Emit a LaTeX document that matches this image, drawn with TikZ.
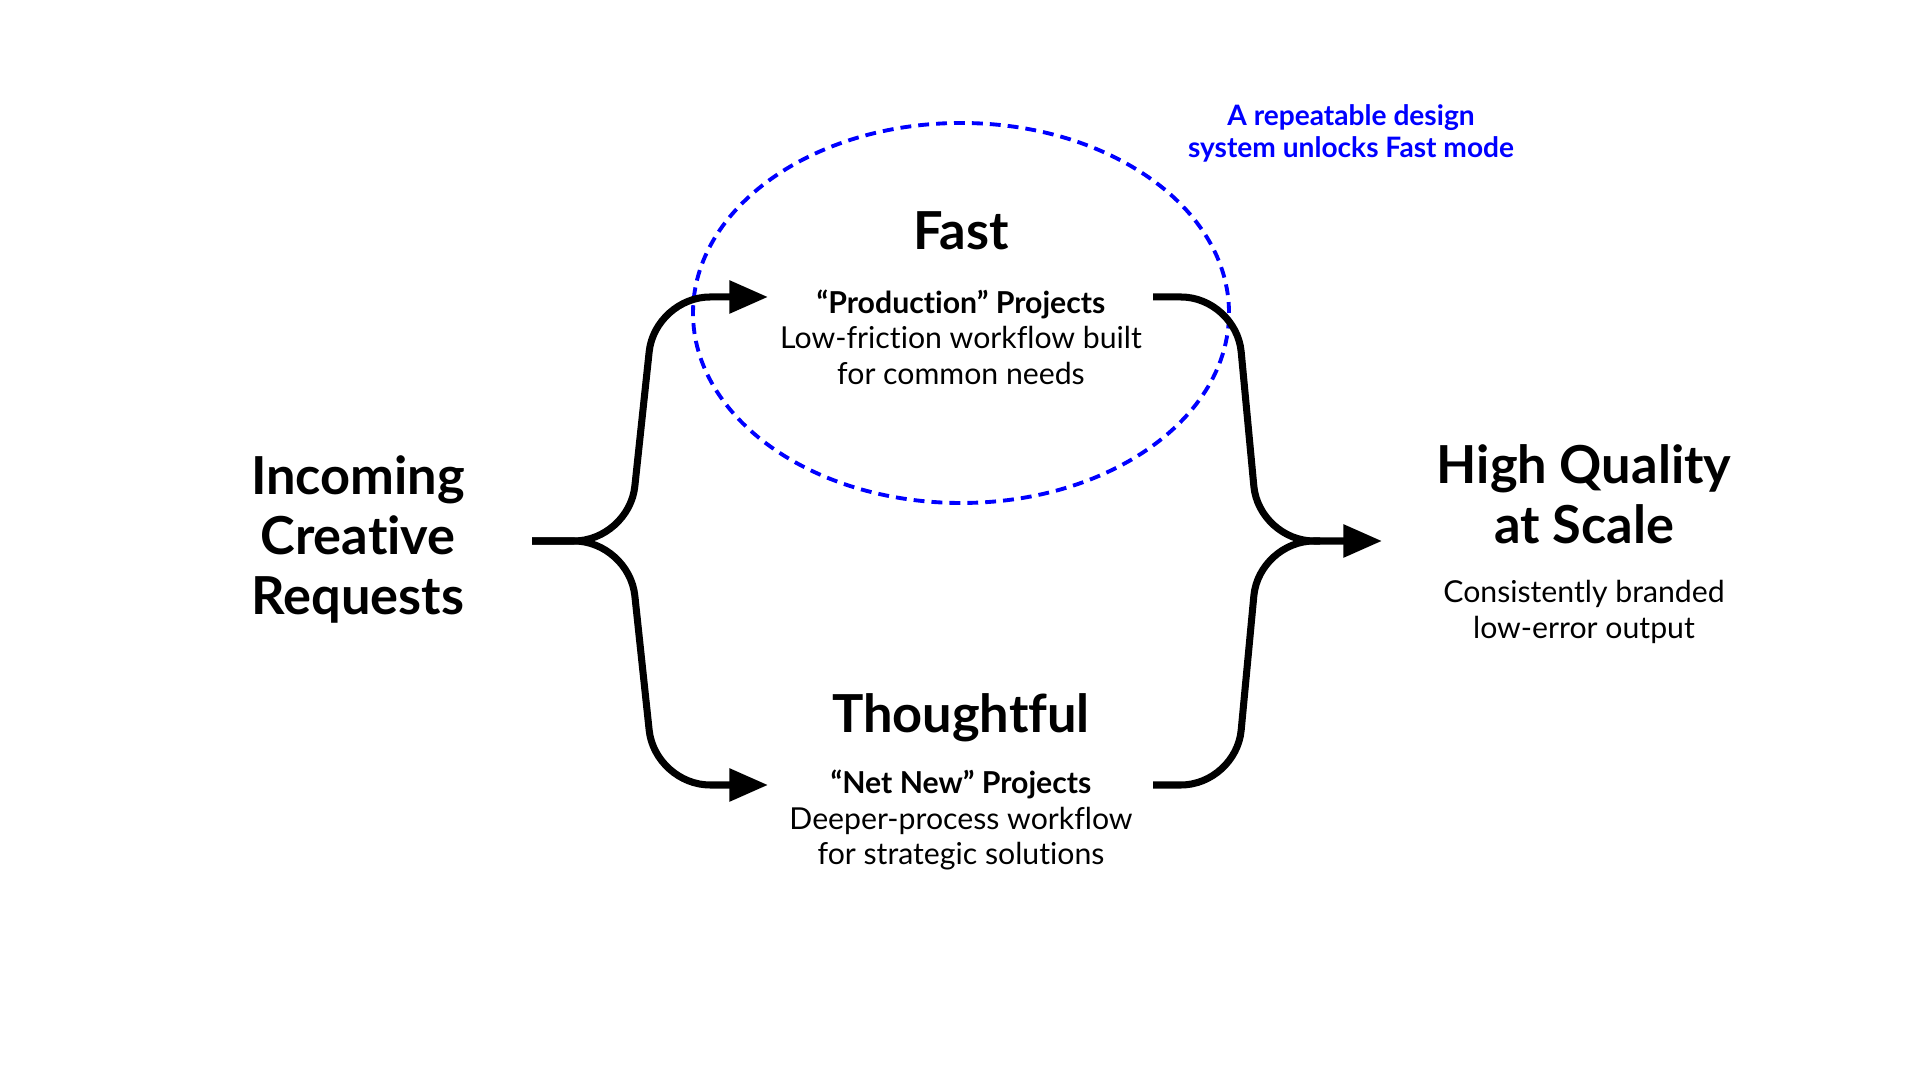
\documentclass[tikz,border=0pt]{standalone}
\usepackage{fontspec}
\setmainfont{Lato}[Ligatures={NoCommon}]
\usepackage{xcolor}
\usepackage{tikz}
\usetikzlibrary{shapes, arrows.meta, calc, positioning}

\definecolor{noteblue}{RGB}{0,0,255}

\begin{document}
\begin{tikzpicture}[
    flow/.style={line width=2pt, rounded corners=0.55cm},
    tip/.style={-{Triangle[length=11pt, width=9pt]}},
    heading/.style={font={\fontsize{14.9}{17.1}\selectfont\bfseries}, align=center, anchor=base, inner sep=0pt},
    detail/.style={font={\fontsize{8.6}{10.24}\selectfont}, align=center, anchor=base, inner sep=0pt}
]
    \useasboundingbox (0,0) rectangle (19.2,10.8);

    % Fast mode zone
    \node[ellipse, draw=noteblue, line width=1.1pt, dash pattern=on 3.1pt off 2pt,
          minimum width=5.36cm, minimum height=3.80cm] (zone) at (9.61, 7.67) {};
    \node[font={\fontsize{8}{9.1}\selectfont\bfseries}, text=noteblue, align=center,
          anchor=base, inner sep=0pt] (note) at (13.51, 9.22)
          {A repeatable design\\system unlocks Fast mode};

    % Text blocks (base = last line)
    \node[heading] (src) at (3.58, 4.65) {Incoming\\Creative\\Requests};
    \node[heading] (fast) at (9.61, 8.30) {Fast};
    \node[detail] (fastsub) at (9.61, 6.95)
          {\bfseries “Production” Projects\\Low-friction workflow built\\for common needs};
    \node[heading] (thought) at (9.61, 3.47) {Thoughtful};
    \node[detail] (thoughtsub) at (9.61, 2.15)
          {\bfseries “Net New” Projects\\Deeper-process workflow\\for strategic solutions};
    \node[heading] (goal) at (15.84, 5.36) {High Quality\\at Scale};
    \node[detail] (goalsub) at (15.84, 4.41) {Consistently branded\\low-error output};

    % Brace points
    \coordinate (split) at (5.32, 5.39);
    \coordinate (split_bend) at (6.29, 5.39);
    \coordinate (fast_bend) at (6.55, 7.83);
    \coordinate (thought_bend) at (6.55, 2.95);
    \coordinate (fast_in) at (7.68, 7.83);
    \coordinate (thought_in) at (7.68, 2.95);

    \coordinate (fast_out) at (11.53, 7.83);
    \coordinate (fast_turn) at (12.36, 7.83);
    \coordinate (thought_out) at (11.53, 2.95);
    \coordinate (thought_turn) at (12.36, 2.95);
    \coordinate (merge_bend) at (12.59, 5.39);
    \coordinate (merge) at (13.20, 5.39);
    \coordinate (goal_in) at (13.82, 5.39);

    % Split into two modes
    \draw[flow, tip] (split) -- (split_bend) -- (fast_bend) -- (fast_in);
    \draw[flow, tip] (split) -- (split_bend) -- (thought_bend) -- (thought_in);

    % Merge into output
    \draw[flow, tip] (fast_out) -- (fast_turn) -- (merge_bend) -- (goal_in);
    \draw[flow] (thought_out) -- (thought_turn) -- (merge_bend) -- (merge);

\end{tikzpicture}
\end{document}
